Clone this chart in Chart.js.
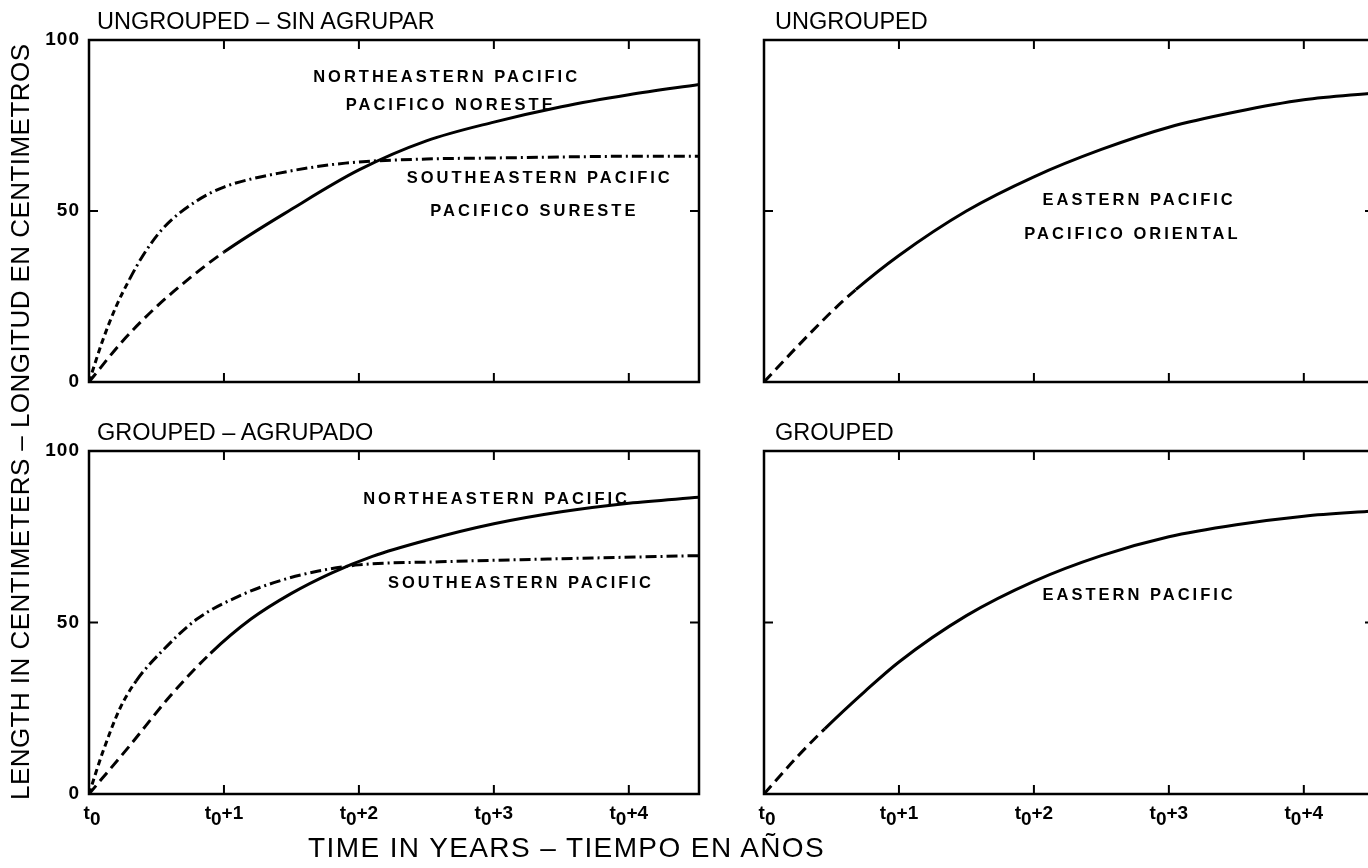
<!DOCTYPE html>
<html>
<head>
<meta charset="utf-8">
<script src="https://cdn.jsdelivr.net/npm/chart.js@4.4.1/dist/chart.umd.min.js"></script>
<style>
  html, body { margin: 0; padding: 0; background: #fff; overflow: hidden; }
  #page { position: relative; width: 1368px; height: 868px; overflow: hidden; }
  canvas { position: absolute; left: 0; top: 0; pointer-events: none; }
  .title { position: absolute; font-family: "Liberation Sans", Arial, sans-serif;
           font-size: 23.5px; color: #000; white-space: nowrap; line-height: 1; }
</style>
</head>
<body>
<div id="page">
  <canvas id="ungroupedSpecies" width="1380" height="868"></canvas>
  <canvas id="ungroupedEastern" width="1380" height="868"></canvas>
  <canvas id="groupedSpecies" width="1380" height="868"></canvas>
  <canvas id="groupedEastern" width="1380" height="868"></canvas>

  <div class="title" style="left:97px; top:10px">UNGROUPED – SIN AGRUPAR</div>
  <div class="title" style="left:775px; top:10px">UNGROUPED</div>
  <div class="title" style="left:97px; top:421px">GROUPED – AGRUPADO</div>
  <div class="title" style="left:775px; top:421px">GROUPED</div>
  <div class="title" style="left:308px; top:834px; font-size:28px; letter-spacing:1.4px">TIME IN YEARS – TIEMPO EN AÑOS</div>
  <div class="title" id="ytitle" style="font-size:26px; letter-spacing:0.45px; transform-origin:0 0; transform:rotate(-90deg)">LENGTH IN CENTIMETERS – LONGITUD EN CENTIMETROS</div>
</div>

<script>
// ticks (years after t0, length in cm)
const yearTicks = [0, 1, 2, 3, 4];
const lengthTicks = [0, 50, 100];
const maxYears = 4.52;

// each series: times, lengths, and the time where the fitted (observed) part starts;
// before that the curve is extrapolated and drawn dashed

// ungrouped - northeastern pacific
const neUngT = [0, 0.25, 0.5, 0.75, 1.0, 1.5, 2.0, 2.5, 3.0, 3.5, 4.0, 4.52];
const neUngL = [0, 12, 22, 30.5, 38, 50.5, 62, 70.5, 76, 80.5, 84, 87];
const neUngFitFrom = 1.0;

// ungrouped - southeastern pacific
const seUngT = [0, 0.1, 0.2, 0.3, 0.4, 0.55, 0.8, 1.0, 1.4, 1.9, 2.5, 3.0, 3.5, 4.0, 4.52];
const seUngL = [0, 12, 22, 30, 37, 45, 53, 57, 61, 64, 65.2, 65.5, 65.8, 66, 66];
const seUngFitFrom = 0.3;

// ungrouped - eastern pacific
const epUngT = [0, 0.25, 0.5, 0.68, 1.0, 1.5, 2.0, 2.5, 3.0, 3.5, 4.0, 4.52];
const epUngL = [0, 10.5, 20.5, 27, 37, 50, 60, 68, 74.5, 79, 82.5, 84.5];
const epUngFitFrom = 0.68;

// grouped - northeastern pacific
const neGrpT = [0, 0.3, 0.6, 0.9, 1.2, 1.5, 1.8, 2.1, 2.5, 3.0, 3.5, 4.0, 4.52];
const neGrpL = [0, 14, 28.5, 41, 51, 58.5, 64.5, 69.3, 74, 78.8, 82.3, 84.8, 86.5];
const neGrpFitFrom = 0.9;

// grouped - southeastern pacific
const seGrpT = [0, 0.1, 0.23, 0.35, 0.55, 0.8, 1.1, 1.4, 1.7, 2.0, 2.6, 3.4, 4.52];
const seGrpL = [0, 12, 25, 33, 42, 51, 57.5, 62, 65, 66.8, 67.7, 68.5, 69.5];
const seGrpFitFrom = 0.35;

// grouped - eastern pacific
const epGrpT = [0, 0.25, 0.45, 0.75, 1.0, 1.5, 2.0, 2.5, 3.0, 3.5, 4.0, 4.52];
const epGrpL = [0, 11, 19, 30, 38.5, 52, 62, 69.5, 75, 78.5, 81, 82.5];
const epGrpFitFrom = 0.45;

const DASH = [11, 6];
const SHORT = [6, 4];
const DASHDOT = [11, 4, 2, 4];
const SOLID = [];

function curve(t, l, fitFrom, extDash, fitDash) {
  return {
    data: t.map((x, i) => ({ x: x, y: l[i] })),
    borderColor: "#000",
    borderWidth: 3,
    pointRadius: 0,
    fill: false,
    cubicInterpolationMode: "monotone",
    borderCapStyle: "butt",
    segment: {
      borderDash: (ctx) => (ctx.p0.parsed.x < fitFrom - 1e-9 ? extDash : fitDash),
    },
  };
}

const frame = {
  id: "frame",
  afterDatasetsDraw(chart, args, opts) {
    const ctx = chart.ctx;
    const a = chart.chartArea;
    const xs = chart.scales.x, ys = chart.scales.y;
    ctx.save();
    ctx.strokeStyle = "#000";
    ctx.lineWidth = 2.5;
    ctx.strokeRect(a.left, a.top, a.right - a.left, a.bottom - a.top);
    // inward ticks
    ctx.lineWidth = 2;
    ctx.beginPath();
    yearTicks.slice(1).forEach((v) => {
      const px = xs.getPixelForValue(v);
      ctx.moveTo(px, a.top); ctx.lineTo(px, a.top + 9);
      ctx.moveTo(px, a.bottom); ctx.lineTo(px, a.bottom - 9);
    });
    const py = ys.getPixelForValue(50);
    ctx.moveTo(a.left, py); ctx.lineTo(a.left + 9, py);
    ctx.moveTo(a.right, py); ctx.lineTo(a.right - 9, py);
    ctx.stroke();

    ctx.fillStyle = "#000";
    if (opts.yLabels) {
      ctx.font = "bold 19px 'Liberation Sans', Arial, sans-serif";
      ctx.letterSpacing = "1px";
      ctx.textAlign = "right";
      ctx.textBaseline = "middle";
      lengthTicks.forEach((v) => {
        ctx.fillText(String(v), a.left - 9, ys.getPixelForValue(v));
      });
    }
    if (opts.xLabels) {
      ctx.font = "bold 19px 'Liberation Sans', Arial, sans-serif";
      ctx.letterSpacing = "0px";
      ctx.textAlign = "left";
      ctx.textBaseline = "alphabetic";
      yearTicks.forEach((v) => {
        const suffix = v === 0 ? "" : "+" + v;
        const w = ctx.measureText("t").width + ctx.measureText("0").width + ctx.measureText(suffix).width;
        let x0 = xs.getPixelForValue(v) - w / 2 + (v === 0 ? 3 : 0);
        const base = a.bottom + 25;
        ctx.fillText("t", x0, base);
        x0 += ctx.measureText("t").width;
        ctx.fillText("0", x0, base + 6);
        x0 += ctx.measureText("0").width;
        ctx.fillText(suffix, x0, base);
      });
    }
    // curve labels
    ctx.font = "bold 16.5px 'Liberation Sans', Arial, sans-serif";
    ctx.letterSpacing = "3px";
    ctx.textAlign = "center";
    ctx.textBaseline = "middle";
    (opts.notes || []).forEach((n) => {
      ctx.fillText(n.text, xs.getPixelForValue(n.x), ys.getPixelForValue(n.y));
    });
    ctx.restore();
  },
};

function makePanel(id, pad, datasets, frameOpts) {
  const ctx = document.getElementById(id).getContext("2d");
  return new Chart(ctx, {
    type: "line",
    data: { datasets: datasets },
    options: {
      responsive: false,
      animation: false,
      devicePixelRatio: 1,
      layout: { padding: pad },
      events: [],
      plugins: { legend: { display: false }, tooltip: { enabled: false }, frame: frameOpts },
      scales: {
        x: { type: "linear", min: 0, max: maxYears, display: false },
        y: { type: "linear", min: 0, max: 100, display: false },
      },
    },
    plugins: [frame],
  });
}

const W = 1380, H = 868;
const leftPad = (top, bottom) => ({ left: 89, right: W - 699, top: top, bottom: H - bottom });
const rightPad = (top, bottom) => ({ left: 764, right: W - 1374, top: top, bottom: H - bottom });

makePanel("ungroupedSpecies", leftPad(40, 382), [
  curve(neUngT, neUngL, neUngFitFrom, DASH, SOLID),
  curve(seUngT, seUngL, seUngFitFrom, SHORT, DASHDOT),
], {
  yLabels: true,
  notes: [
    { text: "NORTHEASTERN PACIFIC", x: 2.65, y: 89 },
    { text: "PACIFICO NORESTE", x: 2.68, y: 81 },
    { text: "SOUTHEASTERN PACIFIC", x: 3.34, y: 59.5 },
    { text: "PACIFICO SURESTE", x: 3.3, y: 50 },
  ],
});

makePanel("ungroupedEastern", rightPad(40, 382), [
  curve(epUngT, epUngL, epUngFitFrom, DASH, SOLID),
], {
  notes: [
    { text: "EASTERN PACIFIC", x: 2.78, y: 53 },
    { text: "PACIFICO ORIENTAL", x: 2.73, y: 43 },
  ],
});

makePanel("groupedSpecies", leftPad(451, 794), [
  curve(neGrpT, neGrpL, neGrpFitFrom, DASH, SOLID),
  curve(seGrpT, seGrpL, seGrpFitFrom, SHORT, DASHDOT),
], {
  yLabels: true,
  xLabels: true,
  notes: [
    { text: "NORTHEASTERN PACIFIC", x: 3.02, y: 86 },
    { text: "SOUTHEASTERN PACIFIC", x: 3.2, y: 61.5 },
  ],
});

makePanel("groupedEastern", rightPad(451, 794), [
  curve(epGrpT, epGrpL, epGrpFitFrom, DASH, SOLID),
], {
  xLabels: true,
  notes: [
    { text: "EASTERN PACIFIC", x: 2.78, y: 58 },
  ],
});

// rotated y axis title, centred on the two left panels
const yt = document.getElementById("ytitle");
yt.style.left = (20 - yt.offsetHeight / 2) + "px";
yt.style.top = (422 + yt.offsetWidth / 2) + "px";
</script>
</body>
</html>
